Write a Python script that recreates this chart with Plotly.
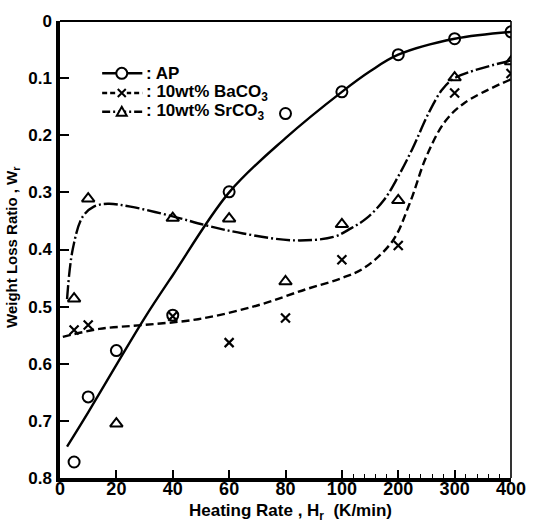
import plotly.graph_objects as go

# ---- data ----
AP_x = [5, 10, 20, 40, 60, 80, 100, 200, 300, 400]
AP_y = [0.772, 0.658, 0.577, 0.515, 0.299, 0.162, 0.124, 0.059, 0.031, 0.019]

BA_x = [5, 10, 40, 60, 80, 100, 200, 300, 400]
BA_y = [0.541, 0.532, 0.517, 0.563, 0.520, 0.418, 0.393, 0.126, 0.092]

SR_x = [5, 10, 20, 40, 60, 80, 100, 200, 300, 400]
SR_y = [0.486, 0.311, 0.705, 0.345, 0.346, 0.456, 0.356, 0.314, 0.099, 0.071]

# fitted curves
AP_curve_x = [2.5, 10, 20, 30, 40, 60, 80, 100, 150, 200, 300, 400]
AP_curve_y = [0.745, 0.685, 0.602, 0.52, 0.445, 0.30, 0.205, 0.124, 0.088, 0.059, 0.031, 0.019]

SR_curve_x = [2.5, 4.5, 8, 12, 17, 25, 40, 52, 65, 83, 97, 116, 144, 175, 200, 225, 255, 278, 300, 400]
SR_curve_y = [0.487, 0.40, 0.343, 0.325, 0.32, 0.325, 0.342, 0.358, 0.372, 0.384, 0.378, 0.363, 0.345,
              0.313, 0.272, 0.224, 0.159, 0.12, 0.1, 0.069]

BA_curve_x = [1, 14, 30, 49, 70, 87, 100, 140, 190, 220, 250, 283, 318, 400]
BA_curve_y = [0.553, 0.539, 0.532, 0.522, 0.498, 0.470, 0.450, 0.432, 0.385,
              0.32, 0.237, 0.176, 0.143, 0.102]

SERIES_NAMES = [": AP", ": 10wt% BaCO<sub>3</sub>", ": 10wt% SrCO<sub>3</sub>"]

X_TICKS = [0, 20, 40, 60, 80, 100, 200, 300, 400]
X_MINOR = [v for v in range(120, 400, 20) if v % 100 != 0]
Y_TICKS = [0, 0.1, 0.2, 0.3, 0.4, 0.5, 0.6, 0.7, 0.8]
Y_TICKTEXT = ["0", "0.1", "0.2", "0.3", "0.4", "0.5", "0.6", "0.7", "0.8"]


def tx(v):
    """Broken heating-rate scale: 0-100 in steps of 20, then 100-400 in steps of 100."""
    return v / 20.0 if v <= 100 else 5.0 + (v - 100) / 100.0


def txs(vals):
    return [tx(v) for v in vals]


FONT = "Arial"
W, H = 538, 525
ML, MR, MT, MB = 60, 18, 15, 47
PW, PH = W - ML - MR, H - MT - MB


def px(xp):
    return (xp - ML) / PW


def py(yp):
    return (H - MB - yp) / PH


fig = go.Figure()

DASH = "8px,4px"
DASHDOT = "14px,3px,2px,3px"

# curves
fig.add_trace(go.Scatter(x=txs(AP_curve_x), y=AP_curve_y, mode="lines", line=dict(color="black", width=2.4, shape="spline", smoothing=1.0), showlegend=False, hoverinfo="skip"))
fig.add_trace(go.Scatter(x=txs(BA_curve_x), y=BA_curve_y, mode="lines", line=dict(color="black", width=2.4, shape="spline", smoothing=1.0, dash=DASH), showlegend=False, hoverinfo="skip"))
fig.add_trace(go.Scatter(x=txs(SR_curve_x), y=SR_curve_y, mode="lines", line=dict(color="black", width=2.4, shape="spline", smoothing=1.0, dash=DASHDOT), showlegend=False, hoverinfo="skip"))

# data markers
fig.add_trace(go.Scatter(x=txs(AP_x), y=AP_y, mode="markers", name="AP", marker=dict(symbol="circle-open", size=11, color="black", line=dict(width=2, color="black")), showlegend=False))
fig.add_trace(go.Scatter(x=txs(BA_x), y=BA_y, mode="markers", name="BaCO3", marker=dict(symbol="x-thin-open", size=9, color="black", line=dict(width=2.2, color="black")), showlegend=False))
fig.add_trace(go.Scatter(x=txs(SR_x), y=SR_y, mode="markers", name="SrCO3", marker=dict(symbol="triangle-up-open", size=11, color="black", line=dict(width=2, color="black")), showlegend=False))

# ---- hand-built legend (key samples + text) ----
shapes = [
    dict(type="line", xref="paper", yref="paper", x0=0, x1=1, y0=1, y1=1, line=dict(color="black", width=2)),
    dict(type="line", xref="paper", yref="paper", x0=1, x1=1, y0=0, y1=1, line=dict(color="black", width=1.6)),
]
annotations = []
rows_y = [68, 88, 107]
key_dash = ["solid", "5px,3px", "8px,3px,2px,3px"]
for i, (ry, nm, dsh) in enumerate(zip(rows_y, SERIES_NAMES, key_dash)):
    shapes.append(dict(type="line", xref="paper", yref="paper", x0=px(103), x1=px(144), y0=py(ry), y1=py(ry),
                       line=dict(color="black", width=2.4, dash=dsh)))
    cx, cy = px(123), py(ry)
    base = dict(xref="paper", yref="paper", xsizemode="pixel", ysizemode="pixel", xanchor=cx, yanchor=cy)
    if i == 0:
        shapes.append(dict(type="circle", x0=-5.5, x1=5.5, y0=-5.5, y1=5.5, fillcolor="white",
                           line=dict(color="black", width=2), **base))
    elif i == 1:
        shapes.append(dict(type="rect", x0=-5, x1=5, y0=-5, y1=5, fillcolor="white", line=dict(width=0), **base))
        shapes.append(dict(type="path", path="M-4,-4 L4,4 M-4,4 L4,-4", line=dict(color="black", width=2), **base))
    else:
        shapes.append(dict(type="path", path="M-5,-4 L5,-4 L0,5 Z", fillcolor="white",
                           line=dict(color="black", width=2), **base))
    annotations.append(dict(text=nm, xref="paper", yref="paper", x=px(146), y=py(ry), xanchor="left", yanchor="middle",
                            showarrow=False, font=dict(family=FONT, size=17, weight="bold")))

annotations += [
    dict(text="Heating Rate , H<sub>r</sub>  (K/min)", xref="paper", yref="paper", x=px(295), y=py(512),
         xanchor="center", yanchor="middle", showarrow=False, font=dict(family=FONT, size=17, weight="bold")),
    dict(text="Weight Loss Ratio , W<sub>r</sub>", xref="paper", yref="paper", x=px(11), y=py(244),
         xanchor="center", yanchor="middle", textangle=-90, showarrow=False, font=dict(family=FONT, size=15, weight="bold")),
]

fig.update_layout(
    width=W, height=H,
    margin=dict(l=ML, r=MR, t=MT, b=MB),
    paper_bgcolor="white", plot_bgcolor="white",
    font=dict(family=FONT, color="black", size=16, weight="bold"),
    showlegend=False,
    xaxis=dict(range=[0, 8], tickmode="array", tickvals=txs(X_TICKS), ticktext=[str(v) for v in X_TICKS],
               ticks="inside", ticklen=8, tickwidth=1.5, tickcolor="black",
               minor=dict(tickmode="array", tickvals=txs(X_MINOR), ticks="inside", ticklen=4, tickwidth=1.3, tickcolor="black"),
               showline=True, linewidth=3.5, linecolor="black", mirror=False,
               showgrid=False, zeroline=False, ticklabelstandoff=-8,
               tickfont=dict(family=FONT, size=18, weight="bold")),
    yaxis=dict(range=[0.8, 0], tickmode="array", tickvals=Y_TICKS, ticktext=Y_TICKTEXT,
               ticks="inside", ticklen=9, tickwidth=1.5, tickcolor="black",
               showline=True, linewidth=3.5, linecolor="black", mirror=False,
               showgrid=False, zeroline=False, ticklabelstandoff=1,
               tickfont=dict(family=FONT, size=17, weight="bold")),
    shapes=shapes,
    annotations=annotations,
)

fig.write_html("out.html", config={"displayModeBar": False},
               post_script="document.body.style.margin='0';")
